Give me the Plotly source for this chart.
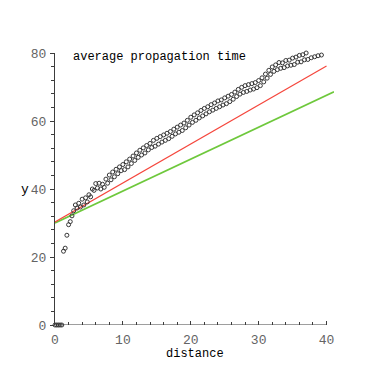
import plotly.graph_objects as go

# measured average propagation time vs distance
distance = [
    0.0, 0.25, 0.5, 0.75, 1.0, 1.25, 1.5, 1.75, 2.0, 2.25,
    2.5, 2.75, 3.0, 3.25, 3.5, 3.75, 4.0, 4.25, 4.5, 4.75,
    5.0, 5.25, 5.5, 5.75, 6.0, 6.25, 6.5, 6.75, 7.0, 7.25,
    7.5, 7.75, 8.0, 8.25, 8.5, 8.75, 9.0, 9.25, 9.5, 9.75,
    10.0, 10.25, 10.5, 10.75, 11.0, 11.25, 11.5, 11.75, 12.0, 12.25,
    12.5, 12.75, 13.0, 13.25, 13.5, 13.75, 14.0, 14.25, 14.5, 14.75,
    15.0, 15.25, 15.5, 15.75, 16.0, 16.25, 16.5, 16.75, 17.0, 17.25,
    17.5, 17.75, 18.0, 18.25, 18.5, 18.75, 19.0, 19.25, 19.5, 19.75,
    20.0, 20.25, 20.5, 20.75, 21.0, 21.25, 21.5, 21.75, 22.0, 22.25,
    22.5, 22.75, 23.0, 23.25, 23.5, 23.75, 24.0, 24.25, 24.5, 24.75,
    25.0, 25.25, 25.5, 25.75, 26.0, 26.25, 26.5, 26.75, 27.0, 27.25,
    27.5, 27.75, 28.0, 28.25, 28.5, 28.75, 29.0, 29.25, 29.5, 29.75,
    30.0, 30.25, 30.5, 30.75, 31.0, 31.25, 31.5, 31.75, 32.0, 32.25,
    32.5, 32.75, 33.0, 33.25, 33.5, 33.75, 34.0, 34.25, 34.5, 34.75,
    35.0, 35.25, 35.5, 35.75, 36.0, 36.25, 36.5, 36.75, 37.0, 37.25,
    37.5, 37.75, 38.0, 38.25, 38.5, 38.75, 39.0, 39.25,
]
avg_time = [
    0.0, 0.0, 0.0, 0.0, 0.0, 21.7, 22.6, 26.4, 29.5, 30.4,
    32.1, 33.6, 35.3, 34.4, 35.8, 34.7, 37.0, 35.3, 37.4, 36.2,
    38.3, 37.7, 40.0, 39.6, 41.6, 40.3, 41.7, 40.0, 41.4, 40.5,
    42.9, 41.7, 44.1, 42.7, 45.0, 43.6, 45.8, 44.5, 46.5, 45.4,
    47.2, 45.7, 48.0, 46.5, 48.8, 47.5, 49.7, 48.4, 50.6, 49.3,
    51.4, 50.0, 52.1, 50.6, 52.8, 51.5, 53.4, 52.2, 54.3, 52.6,
    54.9, 53.2, 55.4, 53.8, 55.9, 54.3, 56.4, 54.8, 56.9, 55.5,
    57.6, 56.2, 58.2, 56.7, 58.8, 57.2, 59.4, 58.0, 60.2, 58.8,
    61.1, 59.6, 61.8, 60.2, 62.4, 60.9, 63.1, 61.5, 63.7, 62.1,
    64.2, 62.7, 64.8, 63.2, 65.3, 63.7, 65.9, 64.2, 66.2, 64.7,
    66.8, 65.1, 67.3, 65.7, 67.8, 66.4, 68.5, 67.2, 69.3, 67.9,
    69.9, 68.4, 70.4, 68.7, 70.7, 69.1, 71.0, 69.4, 71.3, 69.8,
    71.9, 70.4, 72.7, 71.5, 73.8, 72.6, 74.9, 73.7, 75.9, 74.6,
    76.5, 75.1, 77.2, 75.5, 77.1, 75.7, 77.8, 76.2, 77.9, 76.4,
    78.5, 76.6, 78.8, 77.3, 79.3, 77.4, 79.5, 78.0, 80.0, 78.1,
    80.2, 78.6, 80.3, 78.9, 80.3, 79.2, 80.1, 79.4,
]

# fitted lines (end points)
red_x = [0, 40]
red_y = [30.3, 76.2]
green_x = [0, 41.1]
green_y = [30.0, 68.6]

mono = "Liberation Mono, Courier New, monospace"

fig = go.Figure()
fig.add_trace(go.Scatter(
    x=green_x, y=green_y, mode="lines",
    line=dict(color="rgb(110,200,60)", width=1.6),
))
fig.add_trace(go.Scatter(
    x=red_x, y=red_y, mode="lines",
    line=dict(color="rgb(245,70,60)", width=1.2),
))
fig.add_trace(go.Scatter(
    x=distance, y=avg_time, mode="markers",
    marker=dict(symbol="circle-open", size=4, color="rgb(55,55,55)",
                line=dict(width=1, color="rgb(55,55,55)")),
    cliponaxis=False,
))

# x axis line stops at 40 like the original
fig.add_shape(type="line", xref="x", yref="y", x0=0, x1=40, y0=0, y1=0,
              line=dict(color="rgb(60,60,60)", width=1), layer="below")

# page body has an 8px margin, so the figure is a little smaller
fig.update_layout(
    width=374, height=370,
    margin=dict(l=47, r=48, t=45, b=53),
    paper_bgcolor="white", plot_bgcolor="white",
    showlegend=False,
    font=dict(family=mono, size=12, color="rgb(100,100,100)"),
    annotations=[
        dict(text="average propagation time", x=16 / 278, y=0.985,
             xref="paper", yref="paper", xanchor="left", yanchor="middle",
             showarrow=False, font=dict(family=mono, size=12, color="black")),
        dict(text="y", x=-0.108, y=40, xref="paper", yref="y",
             xanchor="center", yanchor="middle", showarrow=False,
             font=dict(family=mono, size=13, color="black")),
        dict(text="distance", x=0.5, y=-0.105, xref="paper", yref="paper",
             xanchor="center", yanchor="middle", showarrow=False,
             font=dict(family=mono, size=12, color="black")),
    ],
)
fig.update_xaxes(
    range=[0, 41.1], showgrid=False, zeroline=False, showline=False,
    tickvals=[0, 10, 20, 30, 40], ticks="inside", ticklen=4,
    tickcolor="rgb(60,60,60)", ticklabelstandoff=5,
    minor=dict(dtick=2, tick0=0, ticks="inside", ticklen=3,
               tickcolor="rgb(60,60,60)"),
    tickfont=dict(family=mono, size=13, color="rgb(100,100,100)"),
)
fig.update_yaxes(
    range=[0, 80], showgrid=False, zeroline=False, showline=True,
    linecolor="rgb(60,60,60)", linewidth=1,
    tickvals=[0, 20, 40, 60, 80], ticks="outside", ticklen=4,
    tickcolor="rgb(60,60,60)", ticklabelstandoff=1,
    minor=dict(dtick=4, tick0=0, ticks="outside", ticklen=3,
               tickcolor="rgb(60,60,60)"),
    tickfont=dict(family=mono, size=13, color="rgb(100,100,100)"),
)

fig.write_html("out.html")
